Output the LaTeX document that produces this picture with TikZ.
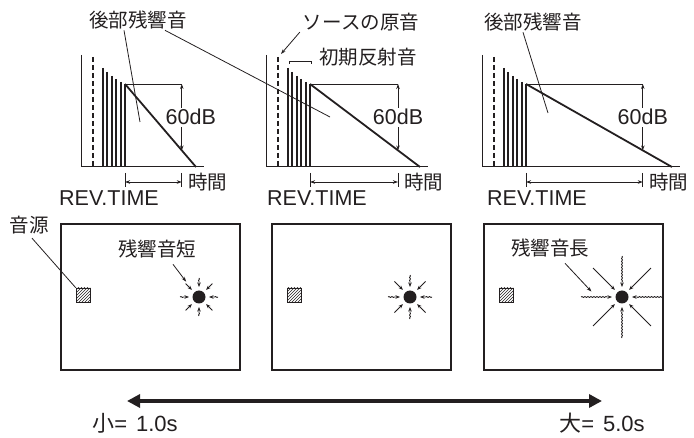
\documentclass[tikz,border=0pt]{standalone}
\usepackage{fontspec}
\setmainfont{Liberation Sans}
\newfontfamily\jp{Noto Sans CJK JP}
\usetikzlibrary{positioning,arrows.meta,calc,patterns,decorations.pathmorphing}
\definecolor{cInk}{HTML}{231F20}

\begin{document}
\begin{tikzpicture}[x=1pt,y=-1pt,>={Stealth[length=5pt,width=3.5pt]},
        every node/.style={inner sep=0pt,text=cInk},
        jplbl/.style={font=\fontsize{19.5}{22}\selectfont\jp},
        latlbl/.style={font=\fontsize{21.5}{24}\selectfont},
        endlbl/.style={font=\fontsize{22}{25}\selectfont},
        fine/.style={draw=cInk,line width=0.8pt},
        axisline/.style={draw=cInk,line width=1pt},
        direct/.style={draw=cInk,line width=1.6pt,dash pattern=on 5pt off 3pt},
        bar/.style={draw=cInk,line width=2pt},
        decay/.style={draw=cInk,line width=1.8pt},
        room/.style={draw=cInk,line width=2pt,minimum width=179pt,minimum height=146pt},
        srcbox/.style={draw=cInk,line width=0.6pt,pattern=north east lines,pattern color=cInk,minimum size=14pt},
        dot/.style={circle,fill=cInk,minimum size=13pt},
        ray/.style={fine,->,>={Stealth[length=4.5pt,width=3.5pt]}},
        wavy/.style={ray,decorate,decoration={snake,amplitude=0.5pt,segment length=3pt,post length=4.5pt}},
        scalebar/.style={draw=cInk,line width=4pt,arrows={Triangle[length=13pt,width=13pt]-Triangle[length=13pt,width=13pt]}}]
        \useasboundingbox (0,0) rectangle (694,438);
        \foreach \ax/\de/\rx/\dx [count=\i] in {81/196/59/9,266/420/267/0,482/672/487/0}{
          \coordinate (d\i) at (\ax+44,84);
          \coordinate (e\i) at (\de,167);
          \coordinate (m\i) at ($(d\i)!0.8!(e\i)$);
          \coordinate (t\i) at (m\i |- d\i);
          \draw[axisline] (\ax,55) -- (\ax,167) -- (\de+8,167);
          \draw[direct] (\ax+12,57) -- (\ax+12,167);
          \foreach \k/\h in {0/68,1/72,2/76,3/79,4/82,5/84}
            \draw[bar] (\ax+21.5+\k*4.5,\h) -- (\ax+21.5+\k*4.5,167);
          \draw[decay] (d\i) -- (e\i);
          \draw[fine] (d\i) -- (t\i);
          \draw[fine,<->] (t\i) -- (m\i);
          \node[latlbl,fill=white,inner sep=1.5pt] (db\i) at ($(t\i)!0.5!(m\i)+(\dx,0)$) {60dB};
          \coordinate (ta\i) at (\ax+44,182);
          \coordinate (tb\i) at (m\i |- ta\i);
          \draw[fine] (ta\i) ++(0,-9) -- ++(0,14);
          \draw[fine] (tb\i) ++(0,-9) -- ++(0,14);
          \draw[fine,<->] (ta\i) -- (tb\i);
          \node[jplbl,anchor=west] (time\i) at ([xshift=6pt]tb\i) {時間};
          \node[latlbl,anchor=west] (rev\i) at (\rx,198) {REV.TIME};
        }
        \coordinate (lateA) at (140,122);
        \coordinate (lateB) at (330,117);
        \coordinate (lateC) at (548,113);
        \coordinate (srcTop) at (281,54);
        \node[jplbl] (late1) at (138,20) {後部残響音};
        \node[jplbl] (late3) at (533,22) {後部残響音};
        \node[jplbl] (orig) at (361,22) {ソースの原音};
        \node[jplbl] (early) at (368,57) {初期反射音};
        \draw[fine] ([xshift=-14pt,yshift=-1pt]late1.south) -- (lateA);
        \draw[fine] ([xshift=27pt,yshift=-1pt]late1.south) -- (lateB);
        \draw[fine] ([xshift=-10pt,yshift=-1pt]late3.south) -- (lateC);
        \draw[fine,->] ([xshift=-3pt,yshift=-1pt]orig.south west) -- (srcTop);
        \draw[fine] (289,64) -- (289,61) -- (311,61) -- (311,64);
        \foreach \rx [count=\i] in {60,271,483}{
          \node[room,anchor=north west] (room\i) at (\rx,223) {};
          \node[srcbox] (sq\i) at (\rx+23,295) {};
          \node[dot] (dot\i) at (\rx+139,297) {};
        }
        \foreach \i/\ro in {1/19pt,2/22pt,3/41pt}{
          \foreach \a in {0,90,180,270}
            \draw[wavy] ([shift={(\a:\ro)}]dot\i.center) -- ([shift={(\a:10pt)}]dot\i.center);
          \foreach \a in {45,135,225,315}
            \draw[ray] ([shift={(\a:\ro)}]dot\i.center) -- ([shift={(\a:10pt)}]dot\i.center);
        }
        \node[jplbl] (srclbl) at (29,225) {音源};
        \node[jplbl] (shortlbl) at (157,249) {残響音短};
        \node[jplbl] (longlbl) at (550,248) {残響音長};
        \draw[fine] ([xshift=3pt,yshift=-4pt]srclbl.south) -- (sq1.north west);
        \draw[fine,->] ([xshift=16pt,yshift=-6pt]shortlbl.south) -- ([shift={(130:20pt)}]dot1.center);
        \draw[fine,->] ([xshift=15pt,yshift=-6pt]longlbl.south) -- ([shift={(170:31pt)}]dot3.center);
        \coordinate (lo) at (127,401);
        \coordinate (hi) at (602,401);
        \draw[scalebar] (lo) -- (hi);
        \node[endlbl,below=12pt of lo,xshift=8pt] (minlbl) {{\jp 小}=\hspace{9pt}1.0s};
        \node[endlbl,below=12pt of hi] (maxlbl) {{\jp 大}=\hspace{9pt}5.0s};
      \end{tikzpicture}
\end{document}
